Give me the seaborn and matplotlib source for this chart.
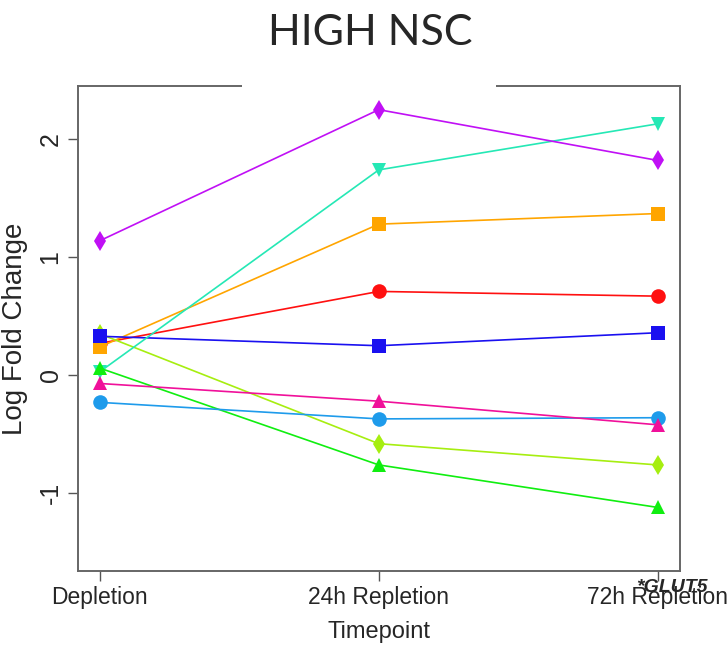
import matplotlib
matplotlib.use("Agg")
import matplotlib.pyplot as plt
from matplotlib.patches import Rectangle
import pandas as pd
import seaborn as sns

sns.set_style("white")
plt.rcParams["font.family"] = ["Liberation Sans", "DejaVu Sans"]

timepoints = ["Depletion", "24h Repletion", "72h Repletion"]
genes = ["G1", "G2", "G3", "G4", "G5", "G6", "G7", "G8", "G9"]
# values (log fold change at each timepoint)
g1 = [0.27, 0.71, 0.67]     # red circle
g2 = [0.24, 1.28, 1.37]     # orange square
g3 = [0.35, -0.58, -0.76]   # yellow-green diamond
g4 = [0.33, 0.25, 0.36]     # blue square
g5 = [0.03, 1.74, 2.13]     # turquoise down triangle
g6 = [0.06, -0.76, -1.12]   # green triangle
g7 = [-0.23, -0.37, -0.36]  # sky blue circle
g8 = [-0.07, -0.22, -0.42]  # pink triangle
g9 = [1.14, 2.25, 1.82]     # purple diamond

colors = ["#FF1010", "#FFA500", "#A6EE10", "#1A10F0", "#25E8B5",
          "#10EE10", "#1E9BEB", "#F0109A", "#C010F5"]
marks = ["o", "s", "d", "s", "v", "^", "o", "^", "d"]

rows = []
for g, vals in zip(genes, [g1, g2, g3, g4, g5, g6, g7, g8, g9]):
    for i, v in enumerate(vals):
        rows.append({"gene": g, "t": i + 1, "lfc": v})
df = pd.DataFrame(rows)

fig = plt.figure(figsize=(7.28, 6.52), dpi=100)
ax = fig.add_axes([0.107, 0.124, 0.827, 0.744])

sns.lineplot(data=df, x="t", y="lfc", hue="gene", style="gene",
             palette=dict(zip(genes, colors)), markers=dict(zip(genes, marks)),
             dashes=False, markersize=10.5, markeredgewidth=0, linewidth=1.2,
             legend=False, ax=ax)

ax.set_xlim(0.921, 3.08)
ax.set_ylim(-1.66, 2.45)
ax.set_xticks([1, 2, 3])
ax.set_xticklabels(timepoints, fontsize=16.5)
ax.set_yticks([-1, 0, 1, 2])
ax.set_yticklabels(["-1", "0", "1", "2"], rotation=90, va="center", fontsize=18)
ax.tick_params(axis="both", direction="out", length=7, width=1, color="#555555",
               bottom=True, left=True, pad=4)
ax.set_xlabel("Timepoint", fontsize=17, labelpad=8)
ax.set_ylabel("Log Fold Change", fontsize=20, labelpad=8)
for s in ax.spines.values():
    s.set_color("#666666")
    s.set_linewidth(1.4)

ax.text(3.05, -1.8, "*GLUT5", fontsize=14, fontweight="bold", fontstyle="italic",
        ha="center", va="center", clip_on=False)

# white block behind the title that covers the top of the frame
fig.patches.append(Rectangle((0.332, 0.854), 0.349, 0.146, transform=fig.transFigure,
                             facecolor="white", edgecolor="none", zorder=2))
fig.text(0.508, 0.949, "HIGH NSC", fontsize=31, ha="center", va="center",
         family=["Lato", "DejaVu Sans"], zorder=3)

fig.savefig("out.png", dpi=100, facecolor="white")
